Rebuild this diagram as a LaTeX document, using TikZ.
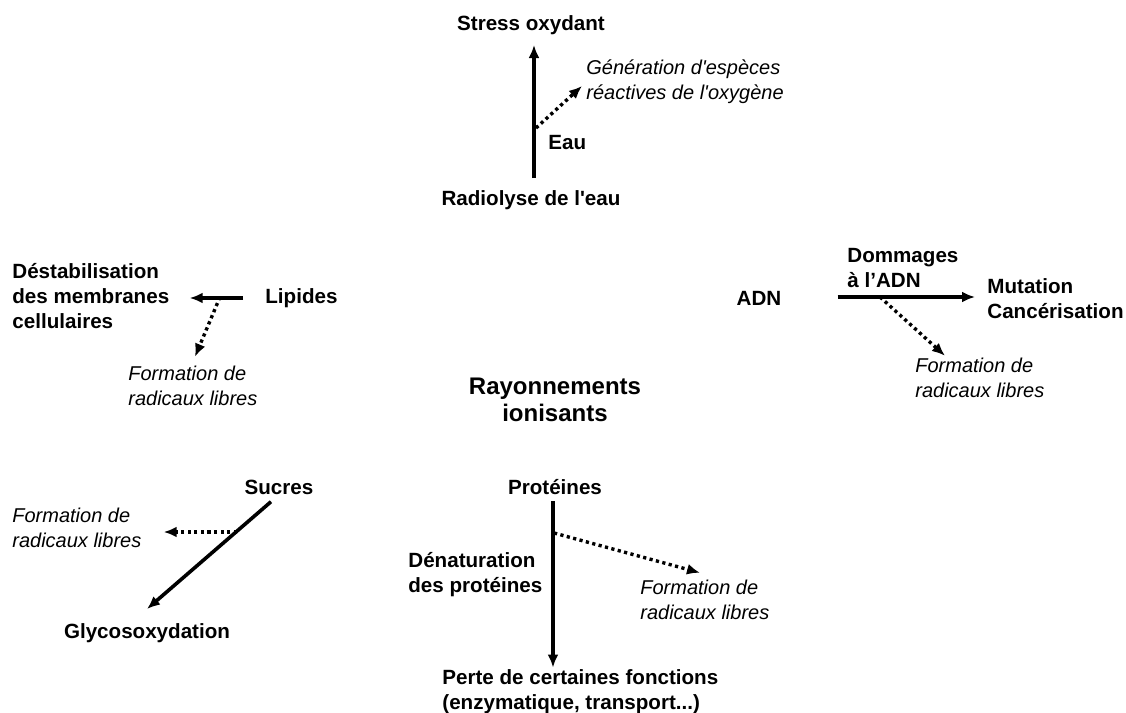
\documentclass[tikz,border=0pt]{standalone}
\usepackage{fontspec}
\setmainfont{Liberation Sans}
\usepackage{xcolor}
\usetikzlibrary{arrows.meta}

\begin{document}
\begin{tikzpicture}[x=0.5pt,y=-0.5pt,>={Latex[length=6.5pt,width=5.5pt]}]
%\draw [help lines] (0,0) grid (1126,713);
\tikzset{
	lbl/.style={
		inner sep=1pt,
		align=left,
		font=\fontsize{10.3}{12.5}\selectfont\bfseries
	},
	ital/.style={
		inner sep=1pt,
		align=left,
		font=\fontsize{10}{12.5}\selectfont\itshape
	},
	centre/.style={
		inner sep=1pt,
		align=center,
		font=\fontsize{12}{13.5}\selectfont\bfseries
	},
	arr/.style={->, line width=1.8pt},
	dotarr/.style={->, line width=1.7pt, dash pattern=on 1.6pt off 1.7pt},
}
\useasboundingbox (0,0) rectangle (1126,713);

% centre
\node (ray) [centre] at (555,400) {Rayonnements\\ ionisants};

% eau
\node (stress) [lbl] at (531,25) {Stress oxydant};
\node (radio) [lbl] at (531,200) {Radiolyse de l\textquotesingle eau};
\node (eau) [lbl, anchor=west] at (546,143) {Eau};
\node (gen) [ital, anchor=west] at (584,82) {Génération d\textquotesingle espèces\\ réactives de l\textquotesingle oxygène};
\draw [arr] ([xshift=1.5pt,yshift=5pt]radio.north) -- ([xshift=1.5pt,yshift=-4pt]stress.south);
\coordinate (wb) at (536,128);
\draw [dotarr] (wb) -- ([xshift=-1pt,yshift=-2pt]gen.west);

% lipides
\node (destab) [lbl, anchor=west] at (10,296) {Déstabilisation\\ des membranes\\ cellulaires};
\node (lipides) [lbl, anchor=west] at (263,298) {Lipides};
\node (frl) [ital, anchor=west] at (126,386) {Formation de\\ radicaux libres};
\draw [arr] ([xshift=-10pt]lipides.west) -- ([xshift=9pt]lipides.west -| destab.east);
\coordinate (lb) at (220,297);
\draw [dotarr] (lb) -- ([xshift=34.5pt,yshift=3.5pt]frl.north west);

% adn
\node (adn) [lbl] at (759,298) {ADN};
\node (domm) [lbl, anchor=west] at (845,268) {Dommages\\ à l’ADN};
\node (mut) [lbl, anchor=west] at (985,299) {Mutation\\ Cancérisation};
\node (frr) [ital, anchor=west] at (913,378) {Formation de\\ radicaux libres};
\draw [arr] ([xshift=27pt,yshift=0.5pt]adn.east) -- ([xshift=-5pt,yshift=1pt]mut.west);
\coordinate (ab) at (880,297);
\draw [dotarr] (ab) -- ([xshift=16pt]frr.north west);

% sucres
\node (sucres) [lbl] at (279,487) {Sucres};
\node (frs) [ital, anchor=west] at (10,528) {Formation de\\ radicaux libres};
\node (glyco) [lbl] at (147,633) {Glycosoxydation};
\draw [arr] ([xshift=-4pt,yshift=-2.5pt]sucres.south) -- ([yshift=6pt]glyco.north);
\coordinate (sb) at (237,532);
\draw [dotarr] (sb) -- ([xshift=10pt,yshift=-2pt]frs.east);

% proteines
\node (prot) [lbl] at (555,487) {Protéines};
\node (denat) [lbl, anchor=west] at (406,575) {Dénaturation\\ des protéines};
\node (frp) [ital, anchor=west] at (638,600) {Formation de\\ radicaux libres};
\node (perte) [lbl, anchor=west] at (440,692) {Perte de certaines fonctions\\ (enzymatique, transport...)};
\draw [arr] ([xshift=-1pt,yshift=-2pt]prot.south) -- ([xshift=-1pt]prot.south |- perte.north);
\coordinate (pb) at (554,533);
\draw [dotarr] (pb) -- ([xshift=31pt,yshift=2.5pt]frp.north west);
\end{tikzpicture}
\end{document}
